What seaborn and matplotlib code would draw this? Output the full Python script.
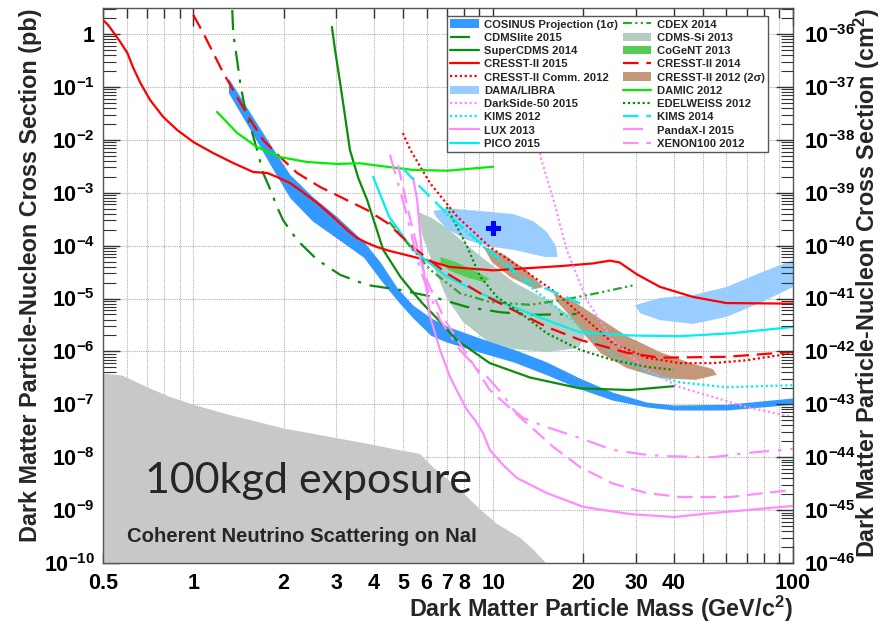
import numpy as np
import pandas as pd
import matplotlib
matplotlib.use("Agg")
import matplotlib.pyplot as plt
import matplotlib.ticker as mticker
from matplotlib.patches import Patch
from matplotlib.lines import Line2D
import seaborn as sns

# ---------------- data: mass (GeV/c^2), cross section (pb) ----------------
cosinus_mass  = [1.31, 1.55, 1.81, 2.1, 2.5, 3.0, 3.7, 4.2, 4.8, 5.4, 6.2, 7.0, 9.0, 11.7, 15.1, 19.5, 25, 32.5, 40, 60, 100]
cosinus_upper = [0.147, 0.032, 0.0080, 0.0022, 8.4e-4, 3.6e-4, 1.2e-4, 4.9e-5, 1.55e-5, 7.5e-6, 4.3e-6, 3.0e-6, 1.8e-6, 1.1e-6, 6.3e-7, 3.1e-7, 1.7e-7, 1.1e-7, 9.7e-8, 1.0e-7, 1.32e-7]
cosinus_lower = [0.077, 0.0153, 0.0033, 8.0e-4, 2.9e-4, 1.4e-4, 6.0e-5, 2.3e-5, 9.0e-6, 4.3e-6, 2.0e-6, 1.5e-6, 9.7e-7, 6.3e-7, 3.6e-7, 1.95e-7, 1.2e-7, 8.9e-8, 7.8e-8, 7.8e-8, 1.0e-7]

nu_floor_mass = [0.5, 0.58, 0.69, 0.83, 1.0, 1.32, 2.0, 3.0, 4.0, 4.9, 5.7, 6.3, 7.7, 9.1, 10.3, 12.3, 13.6, 15.0]
nu_floor_xsec = [3.8e-7, 3.5e-7, 2.2e-7, 1.4e-7, 9.8e-8, 6.3e-8, 3.5e-8, 2.3e-8, 1.7e-8, 1.35e-8, 1.15e-8, 6.5e-9, 2.5e-9, 1.0e-9, 5.5e-10, 3.0e-10, 1.8e-10, 1e-10]

dama_low_mass  = [6.31, 7.0, 9.05, 11.7, 13.6, 15.1, 16.2, 16.4, 14.9, 11.7, 9.55, 8.2, 7.0, 6.45]
dama_low_xsec  = [4.5e-4, 5.1e-4, 4.5e-4, 3.95e-4, 2.9e-4, 1.81e-4, 9.8e-5, 6.1e-5, 6.1e-5, 8.3e-5, 9.8e-5, 1.28e-4, 2.06e-4, 3.5e-4]
dama_high_mass = [29.7, 36, 46.4, 60, 77.5, 100, 100, 77.5, 60, 46.4, 36, 30.9]
dama_high_xsec = [7.5e-6, 1.02e-5, 1.16e-5, 1.65e-5, 3.03e-5, 5.3e-5, 1.65e-5, 8.2e-6, 4.5e-6, 3.3e-6, 3.9e-6, 5.3e-6]
dama_best_mass = [10.0]
dama_best_xsec = [2.15e-4]

cdmssi_mass = [5.63, 6.26, 7.0, 9.05, 11.7, 15.1, 18.5, 20.2, 19.2, 15.1, 11.7, 9.55, 7.94, 7.0, 6.31, 5.8]
cdmssi_xsec = [4.3e-4, 3.3e-4, 2.15e-4, 6.4e-5, 2.05e-5, 9.4e-6, 4.3e-6, 1.95e-6, 1.16e-6, 9.7e-7, 1.11e-6, 1.57e-6, 3.6e-6, 1.02e-5, 4.3e-5, 1.58e-4]

cogent_mass = [6.66, 7.5, 8.7, 9.75, 9.25, 8.1, 7.2, 6.7]
cogent_xsec = [6.1e-5, 4.9e-5, 3.3e-5, 2.34e-5, 2.05e-5, 2.55e-5, 3.3e-5, 4.5e-5]

cresst12_a_mass = [9.25, 10.96, 13.1, 14.7, 13.8, 11.4, 9.9]
cresst12_a_xsec = [9.8e-5, 6.6e-5, 3.2e-5, 1.65e-5, 1.51e-5, 2.55e-5, 4.9e-5]
cresst12_b_mass = [15.85, 18.7, 22.8, 27.9, 36, 46.4, 54, 55.7, 47.2, 36, 27.9, 22.8, 20.2, 18.3, 16.5]
cresst12_b_xsec = [1.27e-5, 8.6e-6, 4.1e-6, 1.95e-6, 9.7e-7, 5.8e-7, 4.65e-7, 3.6e-7, 2.9e-7, 3.14e-7, 4.85e-7, 9.3e-7, 2.04e-6, 4.3e-6, 8.2e-6]

cresst15_mass = [0.5, 0.52, 0.541, 0.571, 0.603, 0.631, 0.666, 0.718, 0.794, 0.884, 1.0, 1.166, 1.359, 1.585, 1.764, 1.903,
                 2.103, 2.27, 2.59, 2.93, 3.26, 3.52, 3.80, 4.10, 4.53, 5.15, 6.0, 7.18, 10, 16.8, 21.5, 24.5, 26.4,
                 30.2, 36, 46.4, 60, 100]
cresst15_xsec = [1.84, 1.48, 1.09, 0.706, 0.437, 0.228, 0.119, 0.0565, 0.027, 0.0153, 0.0091, 0.0056, 0.00364, 0.00246,
                 0.00236, 0.00198, 0.00152, 0.00112, 6.4e-4, 3.47e-4, 1.97e-4, 1.39e-4, 1.12e-4, 9.4e-5, 7.9e-5, 6.6e-5,
                 5.3e-5, 3.94e-5, 3.4e-5, 4.1e-5, 4.6e-5, 5.2e-5, 4.8e-5, 2.85e-5, 1.66e-5, 1.07e-5, 8.2e-6, 8.0e-6]

cresst14_mass = [1.0, 1.08, 1.166, 1.26, 1.40, 1.55, 1.71, 1.95, 2.22, 2.65, 3.26, 3.80, 4.43, 5.4, 7.0, 9.05, 11.7, 15.1, 19.5, 28, 36, 60, 100]
cresst14_xsec = [2.29, 1.04, 0.437, 0.183, 0.0645, 0.0238, 0.0099, 0.0047, 0.00236, 0.00128, 7.2e-4, 4.7e-4, 2.7e-4, 9.4e-5, 3.0e-5, 1.26e-5, 6.0e-6, 2.9e-6, 1.65e-6, 9.4e-7, 7.6e-7, 7.9e-7, 9.8e-7]

cresst_comm_mass = [5.0, 5.3, 6.17, 7.6, 9.75, 12.6, 16.3, 20, 25, 32.5, 42, 54, 70, 100]
cresst_comm_xsec = [0.0134, 0.0064, 0.0015, 3.5e-4, 9.4e-5, 3.5e-5, 1.26e-5, 4.5e-6, 1.45e-6, 7.6e-7, 6.0e-7, 6.0e-7, 6.8e-7, 9.3e-7]

cdmslite_mass = [1.349, 1.359, 1.40, 1.434, 1.49, 1.573, 1.633, 1.71, 1.81, 1.905, 1.995, 2.22, 2.59, 3.09, 3.8, 4.9, 6.3, 8.2, 10.6, 13.3, 19]
cdmslite_xsec = [2.84, 1.04, 0.322, 0.119, 0.0365, 0.0134, 0.0064, 0.00236, 0.00112, 5.3e-4, 3.0e-4, 1.27e-4, 5.4e-5, 2.8e-5, 1.8e-5, 1.45e-5, 1.07e-5, 6.9e-6, 5.5e-6, 4.9e-6, 5.1e-6]

supercdms_mass = [2.9, 2.97, 3.09, 3.21, 3.33, 3.55, 3.8, 4.04, 4.3, 4.9, 5.3, 5.8, 6.45, 7.55, 9.75, 13.3, 19.5, 28.6, 40]
supercdms_xsec = [1.36, 0.50, 0.118, 0.027, 0.0064, 0.0019, 7.3e-4, 2.5e-4, 8.3e-5, 2.6e-5, 1.5e-5, 8.2e-6, 4.4e-6, 1.65e-6, 6.0e-7, 3.2e-7, 2.0e-7, 1.86e-7, 2.2e-7]

damic_mass = [1.2, 1.40, 1.63, 1.95, 2.4, 3.02, 3.6, 4.2, 5.4, 7.0, 10]
damic_xsec = [0.0336, 0.0135, 0.0073, 0.0047, 0.0038, 0.0035, 0.0036, 0.0032, 0.0027, 0.0026, 0.0031]

cdex_mass = [4.5, 6.17, 7.75, 9.75, 13.3, 17.1, 22.2, 29.7]
cdex_xsec = [2.8e-4, 3.5e-5, 1.26e-5, 8.6e-6, 7.6e-6, 9.4e-6, 1.26e-5, 1.8e-5]

edelweiss_mass = [7.0, 8.2, 9.05, 10.3, 12.3, 15.1, 19.5, 25, 32.5, 40]
edelweiss_xsec = [5.4e-4, 9.4e-5, 2.6e-5, 1.07e-5, 5.4e-6, 2.2e-6, 1.07e-6, 6.9e-7, 5.1e-7, 4.5e-7]

pico_mass = [3.98, 4.5, 5.4, 7.0, 9.05, 11.7, 15.1, 19.5, 28.6, 42, 62, 100]
pico_xsec = [0.0020, 3.5e-4, 8.3e-5, 2.6e-5, 1.26e-5, 6.9e-6, 3.9e-6, 2.3e-6, 2.0e-6, 1.94e-6, 2.2e-6, 2.9e-6]

kims14_mass = [5.0, 5.7, 7.0, 8.6, 10.6, 12.9, 16.3, 20]
kims14_xsec = [0.0029, 0.0013, 4.1e-4, 1.45e-4, 5.4e-5, 2.2e-5, 1.26e-5, 7.6e-6]

kims12_mass = [7.0, 10.6, 15.1, 20, 25, 32.5, 42, 60, 100]
kims12_xsec = [3.9e-4, 4.9e-5, 9.4e-6, 2.6e-6, 8.6e-7, 4.1e-7, 2.6e-7, 2.1e-7, 2.3e-7]

darkside_mass = [13.6, 14.4, 15.9, 17.6, 20.5, 25, 32.5, 42, 54, 70, 100]
darkside_xsec = [0.32, 0.0047, 7.3e-4, 8.3e-5, 9.4e-6, 1.65e-6, 4.5e-7, 2.1e-7, 1.38e-7, 8.9e-8, 5.7e-8]

lux_mass = [5.41, 5.58, 5.71, 5.84, 6.02, 6.16, 6.40, 6.65, 6.91, 7.18, 7.64, 8.18, 8.71, 9.25, 9.75, 10.8, 12.0, 15.1, 20, 28.6, 40, 54, 70, 100]
lux_xsec = [0.0019, 7.3e-4, 1.73e-4, 3.94e-5, 1.27e-5, 4.47e-6, 2.23e-6, 1.06e-6, 6.0e-7, 3.28e-7, 1.64e-7, 7.8e-8, 5.0e-8, 2.87e-8, 1.37e-8, 7.1e-9, 4.05e-9, 2.1e-9, 1.15e-9, 8.4e-10, 7.4e-10, 8.8e-10, 1.0e-9, 1.2e-9]

pandax_mass = [4.53, 5.1, 5.7, 6.66, 7.75, 9.05, 9.5, 10.7, 11.7, 12.6, 15.1, 19.5, 25, 30.9, 36.7, 54, 70, 100]
pandax_xsec = [0.0052, 4.7e-4, 3.5e-5, 3.9e-6, 1.07e-6, 4.1e-7, 3.4e-7, 1.6e-7, 7.8e-8, 5.5e-8, 3.7e-8, 2.3e-8, 1.38e-8, 1.15e-8, 1.05e-8, 1.0e-8, 1.2e-8, 1.44e-8]

xenon_mass = [4.82, 5.3, 5.9, 6.9, 8.4, 9.75, 12.3, 15.9, 19.5, 25, 32.5, 42, 62, 80, 100]
xenon_xsec = [0.0033, 3.0e-4, 2.8e-5, 3.9e-6, 6.9e-7, 1.86e-7, 5.7e-8, 1.55e-8, 6.5e-9, 3.2e-9, 2.1e-9, 1.77e-9, 1.77e-9, 2.1e-9, 2.4e-9]

x_major_ticks = [1, 10, 100]
x_major_labels = ["1", "10", "100"]
x_minor_ticks = [0.5, 0.6, 0.7, 0.8, 0.9, 2, 3, 4, 5, 6, 7, 8, 9, 20, 30, 40, 50, 60, 70, 80, 90]
x_minor_labels = ["0.5", "", "", "", "", "2", "3", "4", "5", "6", "7", "8", "", "20", "30", "40", "", "", "", "", ""]
y_exponents_pb = list(range(-10, 1))
y_exponents_cm2 = list(range(-46, -35))

# ---------------- style ----------------
sns.set_theme(style="white")
plt.rcParams['font.family'] = ['Liberation Sans', 'DejaVu Sans']
plt.rcParams['font.weight'] = 'bold'
plt.rcParams['mathtext.fontset'] = 'custom'
plt.rcParams['mathtext.rm'] = 'Liberation Sans:bold'
plt.rcParams['mathtext.bf'] = 'Liberation Sans:bold'
plt.rcParams['mathtext.it'] = 'Liberation Sans:bold:italic'
plt.rcParams['mathtext.default'] = 'rm'

W, H = 881, 626
fig = plt.figure(figsize=(W / 100, H / 100), dpi=100)
ax = fig.add_axes([103 / W, 63 / H, 690 / W, 555 / H])
ax.set_xscale('log')
ax.set_yscale('log')
ytop = 10 ** (26 / 52.9)
ax.set_xlim(0.5, 100)
ax.set_ylim(1e-10, ytop)

C_COS = '#3399ff'
C_DAMA = '#99ccff'
C_CDMSSI = '#b3cdc4'
C_COGENT = '#55cc55'
C_CRESST12 = '#c4977b'
RED = '#ff0000'
DGREEN = '#0b8c0b'
LGREEN = '#00ee00'
CDEXG = '#2fa52f'
CYAN = '#00f0f0'
PINK = '#ff8cff'

# fills
ax.fill(nu_floor_mass + [15.0, 0.5], nu_floor_xsec + [1e-10, 1e-10], color='#c8c8c8', lw=0, zorder=1)
ax.fill(cdmssi_mass, cdmssi_xsec, color=C_CDMSSI, lw=0, zorder=1.2)
ax.fill(dama_low_mass, dama_low_xsec, color=C_DAMA, lw=0, zorder=1.2)
ax.fill(dama_high_mass, dama_high_xsec, color=C_DAMA, lw=0, zorder=1.2)
ax.fill(cogent_mass, cogent_xsec, color=C_COGENT, lw=0, zorder=1.3)
ax.fill(cresst12_a_mass, cresst12_a_xsec, color=C_CRESST12, lw=0, zorder=1.3)
ax.fill(cresst12_b_mass, cresst12_b_xsec, color=C_CRESST12, lw=0, zorder=1.3)
ax.fill_between(cosinus_mass, cosinus_lower, cosinus_upper, color=C_COS, lw=0, zorder=1.4)

LS_DASH = (0, (7, 3.5))
LS_DOT = (0, (1, 1.2))
LS_DASHDOT = (0, (9, 4, 1.5, 4))
LS_DDOT = (0, (4, 1.5, 1, 1.5, 1, 1.5))

curves = [
    ("CDMSlite 2015", cdmslite_mass, cdmslite_xsec, DGREEN, LS_DASHDOT),
    ("SuperCDMS 2014", supercdms_mass, supercdms_xsec, DGREEN, '-'),
    ("CRESST-II 2015", cresst15_mass, cresst15_xsec, RED, '-'),
    ("CRESST-II Comm. 2012", cresst_comm_mass, cresst_comm_xsec, RED, LS_DOT),
    ("DarkSide-50 2015", darkside_mass, darkside_xsec, PINK, LS_DOT),
    ("KIMS 2012", kims12_mass, kims12_xsec, CYAN, LS_DOT),
    ("LUX 2013", lux_mass, lux_xsec, PINK, '-'),
    ("PICO 2015", pico_mass, pico_xsec, CYAN, '-'),
    ("CDEX 2014", cdex_mass, cdex_xsec, CDEXG, LS_DDOT),
    ("CRESST-II 2014", cresst14_mass, cresst14_xsec, RED, LS_DASH),
    ("DAMIC 2012", damic_mass, damic_xsec, LGREEN, '-'),
    ("EDELWEISS 2012", edelweiss_mass, edelweiss_xsec, DGREEN, LS_DOT),
    ("KIMS 2014", kims14_mass, kims14_xsec, CYAN, LS_DASH),
    ("PandaX-I 2015", pandax_mass, pandax_xsec, PINK, LS_DASHDOT),
    ("XENON100 2012", xenon_mass, xenon_xsec, PINK, LS_DASH),
]
styles = {}
for name, m, s, col, ls in curves:
    df = pd.DataFrame({"mass": m, "xsec": s})
    sns.lineplot(data=df, x="mass", y="xsec", ax=ax, color=col, linestyle=ls,
                 linewidth=1.6, sort=False, estimator=None, legend=False, zorder=3)
    styles[name] = (col, ls)

sns.scatterplot(x=dama_best_mass, y=dama_best_xsec, ax=ax, marker='P', s=90,
                color='#0000ff', edgecolor='#0000ff', zorder=4, legend=False)

# axes / ticks
ax.xaxis.set_major_locator(mticker.FixedLocator(x_major_ticks))
ax.xaxis.set_major_formatter(mticker.FixedFormatter(x_major_labels))
ax.xaxis.set_minor_locator(mticker.FixedLocator(x_minor_ticks))
ax.xaxis.set_minor_formatter(mticker.FixedFormatter(x_minor_labels))
ax.yaxis.set_major_locator(mticker.FixedLocator([10.0 ** e for e in y_exponents_pb]))
ax.yaxis.set_major_formatter(mticker.FixedFormatter(
    ["1" if e == 0 else r"$10^{%d}$" % e for e in y_exponents_pb]))
ax.yaxis.set_minor_locator(mticker.LogLocator(base=10, subs=np.arange(2, 10), numticks=30))
ax.yaxis.set_minor_formatter(mticker.NullFormatter())

ax.tick_params(axis='x', which='both', direction='in', top=True, bottom=True,
               labelsize=15.5, pad=7, colors='#333333', labelcolor='black')
ax.tick_params(axis='x', which='major', length=13, width=1)
ax.tick_params(axis='x', which='minor', length=7, width=1)
ax.tick_params(axis='y', which='both', direction='in', left=True, right=False,
               labelsize=15.5, pad=6, colors='#333333', labelcolor='black')
ax.tick_params(axis='y', which='major', length=12, width=1)
ax.tick_params(axis='y', which='minor', length=9, width=0.8)

ax.grid(True, which='both', axis='x', linestyle=(0, (1, 1)), color='#b0b0b0', lw=0.8)
ax.grid(True, which='major', axis='y', linestyle=(0, (1, 1)), color='#b0b0b0', lw=0.8)
ax.set_axisbelow(True)
for sp in ax.spines.values():
    sp.set_color('#555555')
    sp.set_linewidth(1.0)

ax2 = ax.twinx()
ax2.set_yscale('log')
ax2.set_ylim(1e-46, ytop * 1e-36)
ax2.yaxis.set_major_locator(mticker.FixedLocator([10.0 ** e for e in y_exponents_cm2]))
ax2.yaxis.set_major_formatter(mticker.FixedFormatter([r"$10^{%d}$" % e for e in y_exponents_cm2]))
ax2.yaxis.set_minor_locator(mticker.LogLocator(base=10, subs=np.arange(2, 10), numticks=30))
ax2.yaxis.set_minor_formatter(mticker.NullFormatter())
ax2.tick_params(axis='y', which='both', direction='in', labelsize=15.5, pad=8,
                colors='#333333', labelcolor='black')
ax2.tick_params(axis='y', which='major', length=12, width=1)
ax2.tick_params(axis='y', which='minor', length=9, width=0.8)
ax2.grid(False)
for sp in ax2.spines.values():
    sp.set_visible(False)

# labels
LAB_FS = 16.8
ax.set_xlabel("Dark Matter Particle Mass (GeV/c$^{2}$)", fontsize=LAB_FS, fontweight='bold', loc='right')
ax.xaxis.set_label_coords(1.0, -0.056)
ax.set_ylabel("Dark Matter Particle-Nucleon Cross Section (pb)", fontsize=LAB_FS, fontweight='bold', loc='top')
ax.yaxis.set_label_coords((42 - 103) / 690, 1.0)
ax2.set_ylabel("Dark Matter Particle-Nucleon Cross Section (cm$^{2}$)", fontsize=LAB_FS, fontweight='bold', loc='top')
ax2.yaxis.set_label_coords((852 - 103) / 690, 1.0)

ax.text((145 - 103) / 690, (563 - 481) / 555, "100kgd exposure", transform=ax.transAxes,
        fontsize=31, fontweight='normal', family=['Lato', 'DejaVu Sans'], ha='left', va='center', zorder=5)
ax.text((127 - 103) / 690, (563 - 536) / 555, "Coherent Neutrino Scattering on NaI", transform=ax.transAxes,
        fontsize=14.6, fontweight='bold', ha='left', va='center', zorder=5)

# legend
def line_handle(name):
    col, ls = styles[name]
    return Line2D([], [], color=col, linestyle=ls, linewidth=1.6)

handles = [
    Patch(facecolor=C_COS, edgecolor='none'),
    line_handle("CDMSlite 2015"),
    line_handle("SuperCDMS 2014"),
    line_handle("CRESST-II 2015"),
    line_handle("CRESST-II Comm. 2012"),
    Patch(facecolor=C_DAMA, edgecolor='none'),
    line_handle("DarkSide-50 2015"),
    line_handle("KIMS 2012"),
    line_handle("LUX 2013"),
    line_handle("PICO 2015"),
    line_handle("CDEX 2014"),
    Patch(facecolor=C_CDMSSI, edgecolor='none'),
    Patch(facecolor=C_COGENT, edgecolor='none'),
    line_handle("CRESST-II 2014"),
    Patch(facecolor=C_CRESST12, edgecolor='none'),
    line_handle("DAMIC 2012"),
    line_handle("EDELWEISS 2012"),
    line_handle("KIMS 2014"),
    line_handle("PandaX-I 2015"),
    line_handle("XENON100 2012"),
]
labels = ["COSINUS Projection (1σ)", "CDMSlite 2015", "SuperCDMS 2014", "CRESST-II 2015",
          "CRESST-II Comm. 2012", "DAMA/LIBRA", "DarkSide-50 2015", "KIMS 2012", "LUX 2013",
          "PICO 2015", "CDEX 2014", "CDMS-Si 2013", "CoGeNT 2013", "CRESST-II 2014",
          "CRESST-II 2012 (2σ)", "DAMIC 2012", "EDELWEISS 2012", "KIMS 2014",
          "PandaX-I 2015", "XENON100 2012"]
x0 = (447 - 103) / 690
x1 = (768 - 103) / 690
ytop_leg = (563 - 16) / 555
leg = ax.legend(handles, labels, ncol=2, loc='upper left',
                bbox_to_anchor=(x0, ytop_leg - 0.3, x1 - x0, 0.3), mode='expand',
                borderaxespad=0, prop={'size': 8.1, 'weight': 'bold'},
                handlelength=2.5, handleheight=0.8, handletextpad=0.5,
                labelspacing=0.27, columnspacing=0.6, borderpad=0.3,
                frameon=True, fancybox=False, framealpha=1, edgecolor='#555555')
leg.get_frame().set_linewidth(1.0)
leg.set_zorder(10)

fig.savefig("out.png", dpi=100)
